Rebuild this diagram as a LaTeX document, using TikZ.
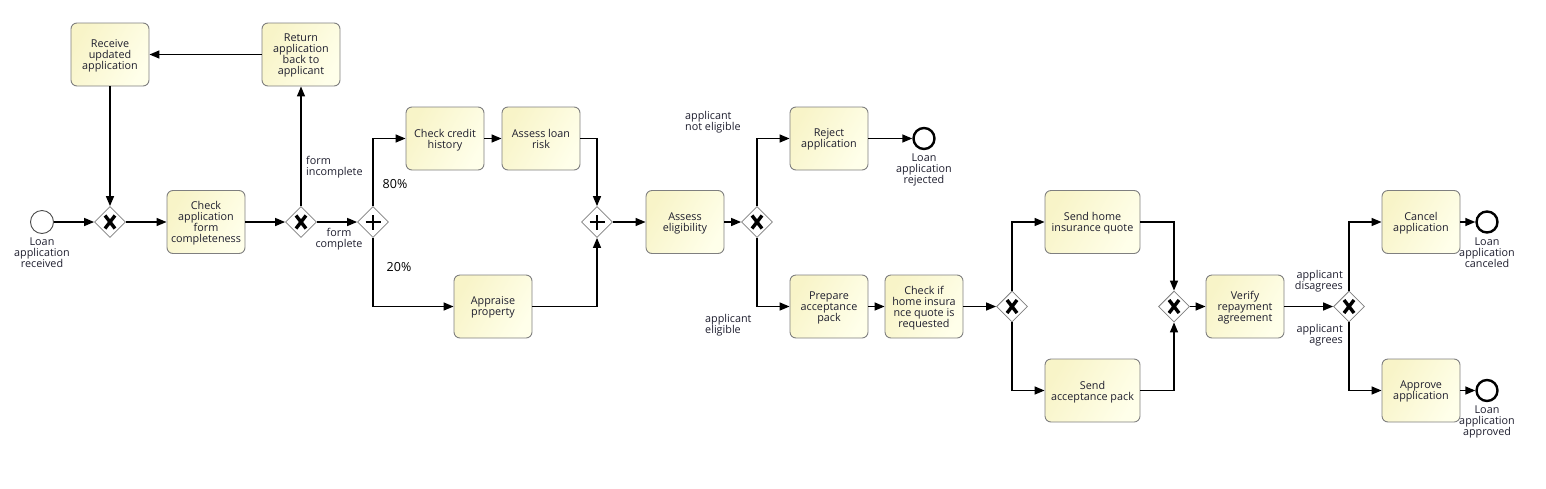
\documentclass[tikz,border=0pt]{standalone}
\usepackage{fontspec}
\setmainfont{Open Sans}
\usetikzlibrary{arrows.meta,shapes.geometric}
\definecolor{boxA}{HTML}{F8F4C8}
\definecolor{boxB}{HTML}{FFFFEA}
\definecolor{boxline}{HTML}{7F7F7F}
\definecolor{txt}{HTML}{1E1E2E}
\tikzset{
  task/.style={draw=boxline, line width=0.9pt, rounded corners=6pt,
    left color=boxA, right color=boxB, shading angle=60,
    minimum width=78pt, minimum height=63pt, inner sep=1pt, text depth=-1pt,
    align=center, text=txt, font=\fontsize{10.8}{11}\selectfont},
  widetask/.style={task, minimum width=95pt},
  gw/.style={diamond, draw=boxline, fill=white, line width=0.8pt,
    minimum width=31pt, minimum height=31pt, inner sep=0pt},
  xgw/.style={gw, path picture={
    \draw[line width=3.4pt, black]
      ([xshift=-5pt,yshift=-6.5pt]path picture bounding box.center) --
      ([xshift=5pt,yshift=6.5pt]path picture bounding box.center)
      ([xshift=-5pt,yshift=6.5pt]path picture bounding box.center) --
      ([xshift=5pt,yshift=-6.5pt]path picture bounding box.center);}},
  pgw/.style={gw, path picture={
    \draw[line width=2.6pt, black]
      ([xshift=-7.5pt]path picture bounding box.center) --
      ([xshift=7.5pt]path picture bounding box.center)
      ([yshift=-7.5pt]path picture bounding box.center) --
      ([yshift=7.5pt]path picture bounding box.center);}},
  startev/.style={circle, draw=black!70, fill=white, line width=0.9pt, minimum size=23pt, inner sep=0pt},
  endev/.style={circle, draw=black, fill=white, line width=2.4pt, minimum size=21pt, inner sep=0pt},
  evlabel/.style={align=center, text=txt, font=\fontsize{10.8}{11}\selectfont, inner sep=1pt},
  flowlabel/.style={text=txt, font=\fontsize{10.8}{11}\selectfont, inner sep=0pt},
  pct/.style={text=black, font=\fontsize{12.5}{13}\selectfont, inner sep=0pt},
  flow/.style={line width=1.4pt, -{Triangle[length=10pt,width=8pt]}}
}
\begin{document}
\begin{tikzpicture}[x=1pt,y=-1pt]
\useasboundingbox (0,0) rectangle (1546,488);
% nodes
\node[startev] (start) at (42,222) {};
\node[evlabel, anchor=north] (startlbl) at (42,237) {Loan\\application\\received};
\node[xgw] (x1) at (110,222) {};
\node[task] (receive) at (110,54.5) {Receive\\updated\\application};
\node[task] (return) at (301,54.5) {Return\\application\\back to\\applicant};
\node[task] (checkform) at (206,222) {Check\\application\\form\\completeness};
\node[xgw] (x2) at (301,222) {};
\node[pgw] (p1) at (373,222) {};
\node[task] (credit) at (445,138.5) {Check credit\\history};
\node[task] (risk) at (541,138.5) {Assess loan\\risk};
\node[task] (appraise) at (493,306.5) {Appraise\\property};
\node[pgw] (p2) at (597,222) {};
\node[task] (elig) at (685,222) {Assess\\eligibility};
\node[xgw] (x3) at (757,222) {};
\node[task] (reject) at (829,138.5) {Reject\\application};
\node[endev] (endrej) at (924,138.5) {};
\node[evlabel, anchor=north] (endrejlbl) at (924,152.5) {Loan\\application\\rejected};
\node[task] (prepare) at (829,306.5) {Prepare\\acceptance\\pack};
\node[task] (checkhome) at (924,306.5) {Check if\\home insura\\nce quote is\\requested};
\node[xgw] (x4) at (1012,306.5) {};
\node[widetask] (sendhome) at (1092.5,222) {Send home\\insurance quote};
\node[widetask] (sendpack) at (1092.5,390.5) {Send\\acceptance pack};
\node[xgw] (x5) at (1174,306.5) {};
\node[task] (verify) at (1245,306.5) {Verify\\repayment\\agreement};
\node[xgw] (x6) at (1349,306.5) {};
\node[task] (cancel) at (1421,222) {Cancel\\application};
\node[task] (approve) at (1421,390.5) {Approve\\application};
\node[endev] (endcan) at (1487,222) {};
\node[evlabel, anchor=north] (endcanlbl) at (1487,236.5) {Loan\\application\\canceled};
\node[endev] (endapp) at (1487,390.5) {};
\node[evlabel, anchor=north] (endapplbl) at (1487,404.5) {Loan\\application\\approved};
% flow labels
\node[flowlabel, align=left, anchor=west] (lincomp) at (306,167.5) {form\\incomplete};
\node[flowlabel, align=center] (lcomp) at (339,239.5) {form\\complete};
\node[pct] (l80) at (395,184) {80\%};
\node[pct] (l20) at (399,267) {20\%};
\node[flowlabel, align=left, anchor=west] (lnot) at (685,122) {applicant\\not eligible};
\node[flowlabel, align=left, anchor=west] (lelig) at (705,325.5) {applicant\\eligible};
\node[flowlabel, align=right, anchor=east] (ldis) at (1343,281) {applicant\\disagrees};
\node[flowlabel, align=right, anchor=east] (lagr) at (1343,335) {applicant\\agrees};
% flows
\draw[flow] (start) -- (x1);
\draw[flow] (x1) -- (checkform);
\draw[flow] (checkform) -- (x2);
\draw[flow] (x2) -- (p1);
\draw[flow] (x2) -- (return);
\draw[flow] (return) -- (receive);
\draw[flow] (receive) -- (x1);
\draw[flow] (p1.north) |- (credit.west);
\draw[flow] (p1.south) |- (appraise.west);
\draw[flow] (credit) -- (risk);
\draw[flow] (risk.east) -| (p2.north);
\draw[flow] (appraise.east) -| (p2.south);
\draw[flow] (p2) -- (elig);
\draw[flow] (elig) -- (x3);
\draw[flow] (x3.north) |- (reject.west);
\draw[flow] (x3.south) |- (prepare.west);
\draw[flow] (reject) -- (endrej);
\draw[flow] (prepare) -- (checkhome);
\draw[flow] (checkhome) -- (x4);
\draw[flow] (x4.north) |- (sendhome.west);
\draw[flow] (x4.south) |- (sendpack.west);
\draw[flow] (sendhome.east) -| (x5.north);
\draw[flow] (sendpack.east) -| (x5.south);
\draw[flow] (x5) -- (verify);
\draw[flow] (verify) -- (x6);
\draw[flow] (x6.north) |- (cancel.west);
\draw[flow] (x6.south) |- (approve.west);
\draw[flow] (cancel) -- (endcan);
\draw[flow] (approve) -- (endapp);
\end{tikzpicture}
\end{document}
